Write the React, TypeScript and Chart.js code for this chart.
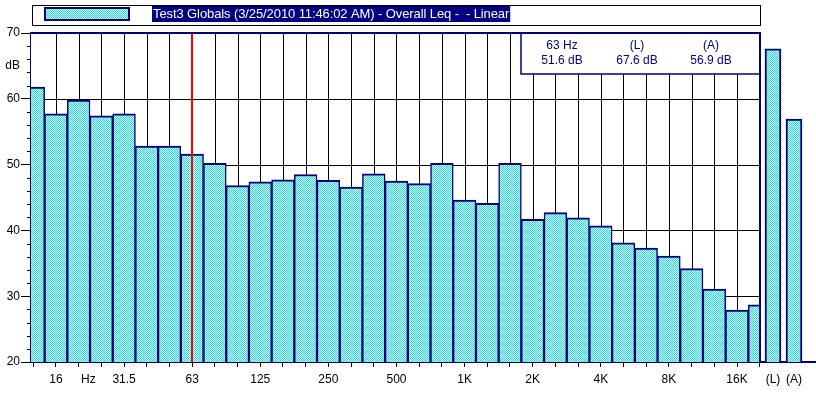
import React, { useEffect, useRef } from 'react';
import { Chart, registerables } from 'chart.js';

Chart.register(...registerables);

// ---------- data ----------
const TITLE = 'Test3 Globals (3/25/2010 11:46:02 AM) - Overall Leq -  - Linear';
const BANDS = ['12.5', '16', '20', '25', '31.5', '40', '50', '63', '80', '100', '125', '160', '200', '250', '315', '400', '500', '630', '800', '1K', '1.25K', '1.6K', '2K', '2.5K', '3.15K', '4K', '5K', '6.3K', '8K', '10K', '12.5K', '16K', '20K'];
const LEQ_DB = [61.8, 57.7, 59.8, 57.4, 57.7, 52.8, 52.8, 51.6, 50.2, 46.8, 47.4, 47.7, 48.5, 47.6, 46.6, 48.6, 47.5, 47.1, 50.2, 44.6, 44.1, 50.2, 41.7, 42.7, 41.9, 40.7, 38.1, 37.3, 36.1, 34.2, 31.1, 27.9, 28.7];
const OVERALL_LABELS = ['(L)', '(A)'];
const OVERALL_DB = [67.6, 56.9];
const X_LABELED = ['16', '31.5', '63', '125', '250', '500', '1K', '2K', '4K', '8K', '16K'];
const X_UNIT = 'Hz';
const Y_TICKS = [20, 30, 40, 50, 60, 70];
const Y_UNIT = 'dB';
const CURSOR_BAND = '63';

// ---------- layout / style ----------
const W = 816;
const H = 393;
const X_MIN = -0.1;
const X_MAX = 34.48;
const MAIN_END = BANDS.length - 1;
const OVERALL_SLOTS = [32.585, 33.51];
const X_UNIT_SLOT = 2.43;
const Y_UNIT_SLOT = 65;
const NAVY = '#000080';
const CYAN = '#3ADADA';
const LIGHT = '#CCFFFF';
const FONT = "'Liberation Sans', Arial, sans-serif";

function isBandTick(v: number): boolean {
  return Number.isInteger(v) && v >= 0 && v < BANDS.length;
}

function labelForX(v: number): string {
  if (Math.abs(v - X_UNIT_SLOT) < 1e-6) return X_UNIT;
  for (let i = 0; i < OVERALL_SLOTS.length; i++) {
    if (Math.abs(v - OVERALL_SLOTS[i]) < 1e-6) return OVERALL_LABELS[i];
  }
  if (isBandTick(v)) return X_LABELED.includes(BANDS[v]) ? BANDS[v] : '';
  return '';
}

export default function App() {
  const ref = useRef<HTMLCanvasElement>(null);

  useEffect(() => {
    const canvas = ref.current!;
    const ctx0 = canvas.getContext('2d')!;
    const pc = document.createElement('canvas');
    pc.width = 2;
    pc.height = 2;
    const pg = pc.getContext('2d')!;
    pg.fillStyle = LIGHT;
    pg.fillRect(0, 0, 2, 2);
    pg.fillStyle = CYAN;
    pg.fillRect(0, 0, 1, 1);
    pg.fillRect(1, 1, 1, 1);
    const pattern = ctx0.createPattern(pc, 'repeat')!;

    const decor = {
      id: 'decor',
      beforeDatasetsDraw(chart: any) {
        const { ctx, chartArea: a, scales } = chart;
        const x = scales.x;
        const y = scales.y;
        const mainRight = x.getPixelForValue(MAIN_END);
        ctx.save();
        ctx.fillStyle = '#fff';
        ctx.fillRect(a.left, a.top, mainRight - a.left, a.bottom - a.top);
        ctx.strokeStyle = '#000';
        ctx.lineWidth = 1;
        ctx.beginPath();
        for (let i = 1; i < BANDS.length - 1; i++) {
          const px = Math.round(x.getPixelForValue(i)) + 0.5;
          ctx.moveTo(px, a.top);
          ctx.lineTo(px, a.bottom);
        }
        for (const v of Y_TICKS) {
          if (v <= y.min || v >= y.max) continue;
          const py = Math.round(y.getPixelForValue(v)) + 0.5;
          ctx.moveTo(a.left, py);
          ctx.lineTo(mainRight, py);
        }
        ctx.stroke();
        ctx.restore();
      },
      beforeDatasetDraw(chart: any, args: any) {
        if (args.index !== 0) return;
        const { ctx, chartArea: a, scales } = chart;
        const mainRight = scales.x.getPixelForValue(MAIN_END);
        ctx.save();
        ctx.beginPath();
        ctx.rect(a.left, a.top - 2, mainRight - a.left, a.bottom - a.top + 2);
        ctx.clip();
      },
      afterDatasetDraw(chart: any, args: any) {
        if (args.index !== 0) return;
        chart.ctx.restore();
      },
      afterDatasetsDraw(chart: any) {
        const { ctx, chartArea: a, scales } = chart;
        const cx = Math.round(scales.x.getPixelForValue(BANDS.indexOf(CURSOR_BAND)));
        ctx.save();
        ctx.strokeStyle = '#ff0000';
        ctx.lineWidth = 2;
        ctx.beginPath();
        ctx.moveTo(cx, a.top);
        ctx.lineTo(cx, a.bottom);
        ctx.stroke();
        ctx.restore();
      },
      afterDraw(chart: any) {
        const { ctx, chartArea: a, scales } = chart;
        const x = scales.x;
        const y = scales.y;
        const mainRight = Math.round(x.getPixelForValue(MAIN_END));
        ctx.save();
        // minor y ticks
        ctx.strokeStyle = '#000';
        ctx.lineWidth = 1;
        ctx.beginPath();
        for (let v = y.min + 2; v < y.max; v += 2) {
          if (v % 10 === 0) continue;
          const py = Math.round(y.getPixelForValue(v)) + 0.5;
          ctx.moveTo(a.left - 4, py);
          ctx.lineTo(a.left, py);
        }
        ctx.stroke();
        // frame: top & right
        ctx.strokeStyle = NAVY;
        ctx.lineWidth = 2;
        ctx.beginPath();
        ctx.moveTo(a.left - 1, a.top);
        ctx.lineTo(mainRight, a.top);
        ctx.lineTo(mainRight, a.bottom);
        ctx.stroke();

        // info box
        const bx = 521;
        const by = a.top;
        const bw = mainRight - bx;
        const bh = 41;
        ctx.fillStyle = '#fff';
        ctx.fillRect(bx, by + 1, bw - 1, bh - 1);
        ctx.strokeStyle = NAVY;
        ctx.lineWidth = 1.5;
        ctx.beginPath();
        ctx.moveTo(bx, by);
        ctx.lineTo(bx, by + bh);
        ctx.lineTo(mainRight, by + bh);
        ctx.stroke();
        ctx.fillStyle = NAVY;
        ctx.font = `12px ${FONT}`;
        ctx.textAlign = 'center';
        ctx.textBaseline = 'middle';
        const ci = BANDS.indexOf(CURSOR_BAND);
        const cols = [
          [`${CURSOR_BAND} Hz`, `${LEQ_DB[ci].toFixed(1)} dB`],
          [OVERALL_LABELS[0], `${OVERALL_DB[0].toFixed(1)} dB`],
          [OVERALL_LABELS[1], `${OVERALL_DB[1].toFixed(1)} dB`],
        ];
        const colX = [41, 116, 190];
        cols.forEach((c, i) => {
          ctx.fillText(c[0], bx + colX[i], by + 13);
          ctx.fillText(c[1], bx + colX[i], by + 28);
        });

        // legend
        ctx.fillStyle = '#fff';
        ctx.fillRect(32, 5, mainRight - 32, 20);
        ctx.strokeStyle = '#000';
        ctx.lineWidth = 1;
        ctx.strokeRect(32.5, 5.5, mainRight - 32, 20);
        ctx.fillStyle = pattern;
        ctx.fillRect(44, 7, 86, 14);
        ctx.strokeStyle = NAVY;
        ctx.lineWidth = 2;
        ctx.strokeRect(45, 8, 84, 12);
        ctx.font = `13px ${FONT}`;
        ctx.textAlign = 'left';
        ctx.textBaseline = 'alphabetic';
        try {
          (ctx as any).letterSpacing = '-0.1px';
        } catch (e) {
          /* ignore */
        }
        const label = chart.data.datasets[0].label;
        const tw = ctx.measureText(label).width;
        ctx.fillStyle = NAVY;
        ctx.fillRect(152, 6, tw + 2, 16);
        ctx.fillStyle = '#fff';
        ctx.fillText(label, 153, 18);
        ctx.restore();
      },
    };

    const tickFont = { family: FONT, size: 12 };
    const bandTicks = BANDS.map((_, i) => i);
    const labelTicks = [...bandTicks, X_UNIT_SLOT, ...OVERALL_SLOTS].sort((p, q) => p - q);

    const chart = new Chart(canvas, {
      type: 'bar',
      data: {
        datasets: [
          {
            label: TITLE,
            data: LEQ_DB.map((v, i) => ({ x: i, y: v })),
            xAxisID: 'x',
            yAxisID: 'y',
            backgroundColor: pattern,
            borderColor: NAVY,
            borderWidth: { top: 2, left: 1.5, right: 1.5, bottom: 0 },
            borderSkipped: 'bottom',
            barPercentage: 1,
            categoryPercentage: 1,
            grouped: false,
          } as any,
          {
            label: 'Overall',
            data: OVERALL_DB.map((v, i) => ({ x: OVERALL_SLOTS[i], y: v })),
            xAxisID: 'xo',
            yAxisID: 'y',
            backgroundColor: pattern,
            borderColor: NAVY,
            borderWidth: { top: 2, left: 2, right: 2, bottom: 0 },
            borderSkipped: 'bottom',
            barThickness: 16,
            grouped: false,
          } as any,
        ],
      },
      options: {
        responsive: false,
        animation: false,
        devicePixelRatio: 1,
        layout: { padding: { top: 33, left: 0, right: 0, bottom: 0 } },
        plugins: { legend: { display: false }, tooltip: { enabled: false } },
        scales: {
          // band axis: tick marks + baseline (labels are on 'xo')
          x: {
            type: 'linear',
            position: 'bottom',
            weight: 0,
            offset: false,
            min: X_MIN,
            max: X_MAX,
            z: 1,
            afterBuildTicks: (s: any) => {
              s.ticks = bandTicks.map((v) => ({ value: v }));
            },
            afterFit: (s: any) => {
              s.height = 0;
            },
            ticks: { display: false, autoSkip: false },
            grid: {
              drawOnChartArea: false,
              drawTicks: true,
              offset: false,
              tickLength: 5,
              tickWidth: 1,
              tickColor: '#000',
            },
            border: { display: true, color: NAVY, width: 2 },
          } as any,
          // label axis
          xo: {
            type: 'linear',
            position: 'bottom',
            weight: 1,
            offset: false,
            min: X_MIN,
            max: X_MAX,
            z: 1,
            afterBuildTicks: (s: any) => {
              s.ticks = labelTicks.map((v) => ({ value: v }));
            },
            afterFit: (s: any) => {
              s.height = H - 362;
            },
            ticks: {
              autoSkip: false,
              maxRotation: 0,
              minRotation: 0,
              padding: 10,
              color: '#000',
              font: tickFont,
              callback: (v: any) => labelForX(Number(v)),
            },
            grid: { display: false, drawOnChartArea: false, drawTicks: false },
            border: { display: false },
          } as any,
          y: {
            type: 'linear',
            position: 'left',
            min: Y_TICKS[0],
            max: Y_TICKS[Y_TICKS.length - 1],
            z: 1,
            afterBuildTicks: (s: any) => {
              s.ticks = [...Y_TICKS, Y_UNIT_SLOT].sort((p, q) => p - q).map((v) => ({ value: v }));
            },
            afterFit: (s: any) => {
              s.width = 31;
            },
            ticks: {
              padding: 1,
              color: '#000',
              font: tickFont,
              callback: (v: any) => (Number(v) === Y_UNIT_SLOT ? Y_UNIT : String(v)),
            },
            grid: {
              drawOnChartArea: false,
              drawTicks: true,
              tickLength: 10,
              tickWidth: 1,
              tickColor: (c: any) => (c.tick && c.tick.value === Y_UNIT_SLOT ? 'rgba(0,0,0,0)' : '#000'),
            },
            border: { display: true, color: NAVY, width: 2 },
          } as any,
        },
      },
      plugins: [decor],
    });

    // band bars fill their whole band: width = one band step on the x scale
    const xs: any = chart.scales.x;
    const step = Math.abs(xs.getPixelForValue(1) - xs.getPixelForValue(0));
    (chart.data.datasets[0] as any).barThickness = step;
    chart.update('none');

    return () => chart.destroy();
  }, []);

  return (
    <div style={{ position: 'fixed', left: 0, top: 0, width: W, height: H, background: '#fff' }}>
      <canvas ref={ref} width={W} height={H} style={{ display: 'block', width: W, height: H }} />
    </div>
  );
}
